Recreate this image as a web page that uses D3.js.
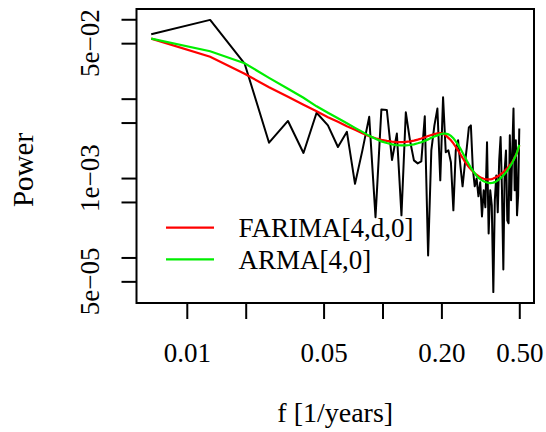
<!DOCTYPE html>
<html>
<head>
  <script src="https://d3js.org/d3.v7.min.js"></script>
  <style>
    body { margin: 0; background: #fff; }
    svg text { font-family: "Palatino Linotype", "Book Antiqua", Palatino, "Liberation Serif", serif; fill: #000; }
  </style>
</head>
<body>
  <div id="chart"></div>
  <script>
    // frequencies (1/years)
    const freq = [0.00658, 0.01316, 0.01974, 0.02632, 0.03289, 0.03947, 0.04605, 0.05263, 0.05921, 0.06579,
      0.07237, 0.07895, 0.08553, 0.09211, 0.09868, 0.10526, 0.11184, 0.11842, 0.125, 0.13158,
      0.13816, 0.14474, 0.15132, 0.15789, 0.16447, 0.17105, 0.17763, 0.18421, 0.19079, 0.19737,
      0.20395, 0.21053, 0.21711, 0.22368, 0.23026, 0.23684, 0.24342, 0.25, 0.25658, 0.26316,
      0.26974, 0.27632, 0.28289, 0.28947, 0.29605, 0.30263, 0.30921, 0.31579, 0.32237, 0.32895,
      0.33553, 0.34211, 0.34868, 0.35526, 0.36184, 0.36842, 0.375, 0.38158, 0.38816, 0.39474,
      0.40132, 0.40789, 0.41447, 0.42105, 0.42763, 0.43421, 0.44079, 0.44737, 0.45395, 0.46053,
      0.46711, 0.47368, 0.48026, 0.48684, 0.49342, 0.5];

    // periodogram
    const periodogram = [0.0647, 0.0982, 0.0277, 0.00279, 0.00524, 0.00207, 0.00664, 0.00461, 0.00246, 0.00382,
      0.000845, 0.00223, 0.0059, 0.000322, 0.00728, 0.0072, 0.00169, 0.00363, 0.000339, 0.00673,
      0.00299, 0.00167, 0.00153, 0.00162, 0.00599, 0.000106, 0.00223, 0.00461, 0.0075, 0.000935,
      0.0104, 0.00211, 0.00223, 0.00158, 0.000392, 0.00223, 0.00299, 0.00144, 0.000786, 0.00144,
      0.00244, 0.00435, 0.00461, 0.00132, 0.000786, 0.00099, 0.000588, 0.000883, 0.000329, 0.0007,
      0.000428, 0.00282, 0.000201, 0.0007, 0.000453, 0.0000366, 0.000524, 0.00108, 0.00037, 0.00167,
      0.0033, 0.0007, 0.0000706, 0.00125, 0.00223, 0.000293, 0.000269, 0.00345, 0.000524, 0.00223,
      0.0075, 0.0007, 0.00299, 0.000339, 0.000605, 0.0042];

    // FARIMA[4,d,0] spectrum
    const farima = [0.0571, 0.0337, 0.0206, 0.0139, 0.01056, 0.00837, 0.00693, 0.00582, 0.00511, 0.00448,
      0.00405, 0.00366, 0.00336, 0.00317, 0.00303, 0.00294, 0.00288, 0.00284, 0.00283, 0.00286,
      0.0029, 0.00296, 0.00305, 0.00315, 0.00326, 0.00338, 0.00348, 0.00358, 0.00365, 0.00368,
      0.00363, 0.00345, 0.00321, 0.00299, 0.00274, 0.00247, 0.00223, 0.00199, 0.0018, 0.00162,
      0.00149, 0.00138, 0.00129, 0.00121, 0.00115, 0.0011, 0.00106, 0.00102, 0.000997, 0.00098,
      0.000969, 0.000963, 0.00096, 0.000963, 0.000971, 0.000986, 0.001006, 0.00103, 0.00105, 0.00108,
      0.00111, 0.00115, 0.00118, 0.00123, 0.00128, 0.00133, 0.00138, 0.00145, 0.00152, 0.0016,
      0.0017, 0.00181, 0.00193, 0.00209, 0.0023, 0.00258];

    // ARMA[4,0] spectrum
    const arma = [0.0571, 0.0396, 0.0279, 0.0183, 0.0133, 0.01026, 0.00801, 0.00664, 0.00566, 0.00489,
      0.00429, 0.00382, 0.0034, 0.00312, 0.0029, 0.00276, 0.00266, 0.0026, 0.00258, 0.00258,
      0.00261, 0.00266, 0.00274, 0.00283, 0.00294, 0.00307, 0.00321, 0.00334, 0.00345, 0.00356,
      0.00362, 0.00363, 0.00356, 0.0034, 0.00317, 0.0029, 0.00262, 0.00235, 0.00208, 0.00185,
      0.00165, 0.00149, 0.00135, 0.00124, 0.00115, 0.00107, 0.00101, 0.000969, 0.000935, 0.000909,
      0.00089, 0.000878, 0.000868, 0.000865, 0.000868, 0.000875, 0.000888, 0.000909, 0.000935, 0.000963,
      0.000997, 0.00104, 0.00108, 0.00113, 0.00118, 0.00124, 0.00131, 0.00138, 0.00147, 0.00156,
      0.00167, 0.0018, 0.00193, 0.00211, 0.00233, 0.00262];

    const xTicks = [0.01, 0.02, 0.05, 0.1, 0.2, 0.5];
    const xTickLabels = { 0.01: "0.01", 0.05: "0.05", 0.2: "0.20", 0.5: "0.50" };
    const yTicks = [0.1, 0.05, 0.01, 0.005, 0.001, 0.0005, 0.0001, 0.00005];
    const yTickLabels = [[0.05, "5e\u221202"], [0.001, "1e\u221203"], [0.00005, "5e\u221205"]];
    const legendItems = [["FARIMA[4,d,0]", "#ff0000"], ["ARMA[4,0]", "#00ee00"]];

    const width = 546, height = 432;
    const box = { left: 136.5, right: 534, top: 9, bottom: 303 };

    // R-style 4% padding on a log scale
    function padLog(ext) {
      const lo = Math.log10(ext[0]), hi = Math.log10(ext[1]);
      const p = (hi - lo) * 0.04;
      return [Math.pow(10, lo - p), Math.pow(10, hi + p)];
    }

    const x = d3.scaleLog().domain(padLog(d3.extent(freq))).range([box.left, box.right]);
    const y = d3.scaleLog().domain(padLog(d3.extent(periodogram))).range([box.bottom, box.top]);

    const svg = d3.select("#chart").append("svg")
      .attr("width", width)
      .attr("height", height);

    const line = (vals) => d3.line()
      .x((d, i) => x(freq[i]))
      .y((d) => y(d))(vals);

    svg.append("path")
      .attr("d", line(periodogram))
      .attr("fill", "none")
      .attr("stroke", "#000")
      .attr("stroke-width", 2)
      .attr("stroke-linejoin", "round");

    svg.append("path")
      .attr("d", line(farima))
      .attr("fill", "none")
      .attr("stroke", "#ff0000")
      .attr("stroke-width", 2.2);

    svg.append("path")
      .attr("d", line(arma))
      .attr("fill", "none")
      .attr("stroke", "#00ee00")
      .attr("stroke-width", 2.2);

    // x axis
    const xAxis = svg.append("g")
      .attr("transform", `translate(0,${box.bottom})`)
      .call(d3.axisBottom(x).tickValues(xTicks).tickSize(16).tickPadding(24)
        .tickFormat((d) => xTickLabels[d] || ""));
    xAxis.select(".domain").remove();
    xAxis.selectAll("line").attr("stroke", "#000").attr("stroke-width", 2);
    xAxis.selectAll("text").attr("font-size", 27).attr("font-family", null);

    // y axis
    const yAxis = svg.append("g")
      .attr("transform", `translate(${box.left},0)`)
      .call(d3.axisLeft(y).tickValues(yTicks).tickSize(15).tickFormat(""));
    yAxis.select(".domain").remove();
    yAxis.selectAll("line").attr("stroke", "#000").attr("stroke-width", 2);

    svg.selectAll(".ylab")
      .data(yTickLabels)
      .enter()
      .append("text")
      .attr("class", "ylab")
      .attr("transform", (d) => `translate(99,${y(d[0])}) rotate(-90)`)
      .attr("text-anchor", "middle")
      .attr("font-size", 27)
      .text((d) => d[1]);

    // plot box
    svg.append("rect")
      .attr("x", box.left)
      .attr("y", box.top)
      .attr("width", box.right - box.left)
      .attr("height", box.bottom - box.top)
      .attr("fill", "none")
      .attr("stroke", "#000")
      .attr("stroke-width", 2);

    // axis titles
    svg.append("text")
      .attr("x", (box.left + box.right) / 2)
      .attr("y", 422)
      .attr("text-anchor", "middle")
      .attr("font-size", 28)
      .text("f [1/years]");

    svg.append("text")
      .attr("transform", "translate(33,170) rotate(-90)")
      .attr("text-anchor", "middle")
      .attr("font-size", 29)
      .attr("fill", "#333")
      .text("Power");

    // legend
    const legend = svg.selectAll(".legend")
      .data(legendItems)
      .enter()
      .append("g")
      .attr("class", "legend")
      .attr("transform", (d, i) => `translate(0,${227.7 + i * 31.6})`);

    legend.append("line")
      .attr("x1", 166)
      .attr("x2", 214)
      .attr("stroke", (d) => d[1])
      .attr("stroke-width", 2.2);

    legend.append("text")
      .attr("x", 238.5)
      .attr("y", 9.5)
      .attr("font-size", 27)
      .text((d) => d[0]);
  </script>
</body>
</html>
